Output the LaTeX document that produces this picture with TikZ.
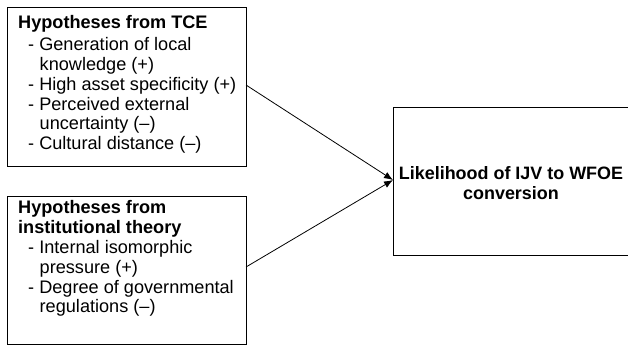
\documentclass[tikz,border=0pt]{standalone}
\usepackage{fontspec}
\setmainfont{Liberation Sans}
\usetikzlibrary{arrows.meta}
\newcommand{\hitem}{\hspace*{10bp}-\ }
\newcommand{\hcont}{\hspace*{21.5bp}}
\begin{document}
\begin{tikzpicture}[x=1bp, y=-1bp]
    \tikzstyle{frame} = [draw, line width=1.3bp, inner sep=0pt]
    \tikzstyle{hyptext} = [inner sep=0pt, anchor=north west, align=left,
                           font=\fontsize{18.2}{20}\selectfont]
    \tikzstyle{link} = [line width=0.8bp, -{Latex[length=9bp, width=7bp]}]
    \useasboundingbox (0,0) rectangle (628,345);
    \node[frame, minimum width=239bp, minimum height=159bp, anchor=north west]
      (tce) at (7,7) {};
    \node[frame, minimum width=239bp, minimum height=148bp, anchor=north west]
      (inst) at (7,196) {};
    \node[frame, minimum width=260bp, minimum height=148bp, anchor=north west]
      (ijv) at (393,107) {};
    \node[hyptext] (tcetext) at (18,15) {%
      \textbf{Hypotheses from TCE}\\[2bp]
      \hitem Generation of local\\
      \hcont knowledge (+)\\
      \hitem High asset specificity (+)\\
      \hitem Perceived external\\
      \hcont uncertainty (--)\\
      \hitem Cultural distance (--)};
    \node[hyptext] (insttext) at (18,200) {%
      \textbf{Hypotheses from}\\
      \textbf{institutional theory}\\
      \hitem Internal isomorphic\\
      \hcont pressure (+)\\
      \hitem Degree of governmental\\
      \hcont regulations (--)};
    \node[inner sep=0pt, align=center, font=\bfseries\fontsize{18}{20}\selectfont]
      (ijvtext) at (511,183) {Likelihood of IJV to WFOE\\conversion};
    \coordinate (tceout) at (246,85);
    \coordinate (instout) at (246,267);
    \coordinate (ijvin) at (393,180);
    \draw[link] (tceout) -- (ijvin);
    \draw[link] (instout) -- (ijvin);
\end{tikzpicture}
\end{document}
